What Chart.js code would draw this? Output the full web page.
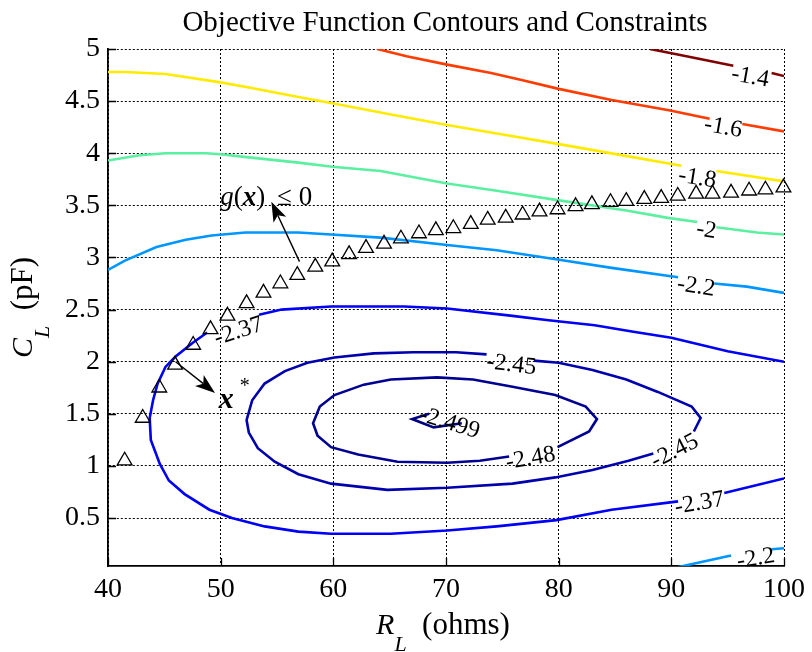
<!DOCTYPE html>
<html lang="en">
<head>
<meta charset="UTF-8">
<title>Objective Function Contours and Constraints</title>
<script src="https://cdn.jsdelivr.net/npm/chart.js@4.4.0/dist/chart.umd.min.js"></script>
<style>
  html, body { margin: 0; padding: 0; background: #fff; }
</style>
</head>
<body>
<canvas id="contourChart" width="812" height="652"></canvas>
<script>
// axis ticks
const xTicks = [40, 50, 60, 70, 80, 90, 100];
const yTicks = [0.5, 1, 1.5, 2, 2.5, 3, 3.5, 4, 4.5, 5];

// contour lines, [R_L, C_L] pairs (null = gap for the inline label)
const level_1_4 = [[88.1,5.0],[90.9,4.94],[93.2,4.89],[95.5,4.84],null,[98.9,4.77],[100,4.74]];
const level_1_6 = [[63.9,5.0],[66.5,4.93],[70.1,4.85],[74.0,4.77],[76.8,4.70],[79.9,4.62],[84.7,4.51],[89.9,4.41],[93.4,4.33],null,[96.3,4.28],[100,4.21]];
const level_1_8 = [[40,4.78],[41.5,4.78],[45.1,4.76],[50,4.68],[52.5,4.63],[56.9,4.54],[59.9,4.48],[65.7,4.36],[70.1,4.27],[74.5,4.19],[79.9,4.09],[86.2,3.97],[90.9,3.88],null,[94.0,3.83],[100,3.73]];
const level_2_0 = [[40,3.93],[42.8,3.98],[45.1,4.0],[48.7,4.0],[50,3.99],[52.5,3.96],[56.9,3.91],[59.9,3.87],[64.2,3.83],[70.1,3.71],[74.5,3.64],[79.9,3.55],[86.0,3.45],[89.7,3.38],[92.3,3.34],null,[94.0,3.29],[97.6,3.24],[100,3.22]];
const level_2_2 = [[40,2.88],[41.5,2.97],[44.3,3.10],[46.9,3.17],[49.2,3.21],[52.2,3.24],[56.9,3.24],[59.8,3.22],[64.2,3.19],[70.1,3.12],[74.5,3.07],[79.9,2.98],[84.7,2.90],[90.6,2.81],null,[93.8,2.75],[96.7,2.72],[100,2.66]];
const level_2_2b = [[90.2,0.02],[95.3,0.14],null,[98.9,0.20],[100,0.21]];
const level_2_37 = [[100,2.0],[95.0,2.10],[90.0,2.23],[86.5,2.29],[83.2,2.35],[78.9,2.40],[75.9,2.44],[70.1,2.51],[66.3,2.53],[59.8,2.53],[55.4,2.50],[53.4,2.45],null,
  [48.8,2.28],[47.5,2.18],[46.0,2.05],[45.1,1.95],[44.4,1.79],[44.0,1.63],[43.7,1.46],[43.8,1.25],[44.6,1.02],[45.4,0.86],[46.8,0.73],[49.0,0.58],[51.0,0.50],
  [53.9,0.42],[56.9,0.37],[59.8,0.35],[65.1,0.35],[70.1,0.38],[74.5,0.42],[79.8,0.48],[84.7,0.58],[90.6,0.66],null,[94.7,0.74],[100,0.88]];
const level_2_45 = [[77.8,2.01],[80.0,1.99],[83.0,1.92],[86.0,1.83],[88.8,1.71],[91.8,1.57],[92.6,1.46],[92.0,1.33],null,
  [88.4,1.12],[86.2,1.05],[83.0,0.96],[79.7,0.89],[75.9,0.83],[70.1,0.79],[64.8,0.77],[59.8,0.83],[56.9,0.92],[54.8,1.04],[53.3,1.17],
  [52.5,1.32],[52.3,1.44],[52.8,1.63],[53.9,1.79],[55.7,1.91],[57.7,1.99],[60.1,2.04],[63.6,2.08],[67.1,2.09],[70.9,2.09],[73.6,2.07]];
const level_2_48 = [[79.9,1.18],[82.7,1.33],[83.4,1.45],[82.4,1.57],[79.7,1.68],[75.9,1.76],[72.4,1.83],[69.2,1.85],[65.1,1.83],[62.7,1.78],
  [60.1,1.68],[58.8,1.57],[58.2,1.41],[58.6,1.29],[59.8,1.18],[62.2,1.11],[65.7,1.04],[70.1,1.03],[73.0,1.05],[75.6,1.09]];
const level_2_499 = [[68.5,1.50],[67.0,1.45],[68.9,1.37],[71.4,1.41]];

// constraint boundary g(x) = 0 (triangle markers)
const constraintPts = [[41.48,1.05],[43.08,1.46],[44.55,1.75],[45.95,1.97],[47.56,2.16],[49.1,2.31],[50.6,2.44],[52.3,2.56],[53.8,2.66],
  [55.3,2.75],[56.8,2.83],[58.4,2.91],[59.9,2.96],[61.4,3.03],[62.9,3.09],[64.5,3.13],[66.0,3.18],[67.6,3.23],[69.1,3.26],[70.65,3.28],
  [72.2,3.32],[73.7,3.36],[75.3,3.38],[76.8,3.41],[78.3,3.44],[79.9,3.46],[81.5,3.49],[82.95,3.51],[84.6,3.53],[86.0,3.54],[87.6,3.56],
  [89.1,3.57],[90.57,3.59],[92.2,3.61],[93.65,3.61],[95.3,3.62],[96.9,3.64],[98.35,3.65],[99.95,3.67]];

// inline contour labels (data position + rotation in degrees)
const contourLabels = [
  { text: '-1.4', x: 97.0, y: 4.73, angle: 10 },
  { text: '-1.6', x: 94.6, y: 4.245, angle: 10 },
  { text: '-1.8', x: 92.3, y: 3.76, angle: 9 },
  { text: '-2', x: 93.1, y: 3.26, angle: 9 },
  { text: '-2.2', x: 92.2, y: 2.72, angle: 9 },
  { text: '-2.2', x: 97.5, y: 0.11, angle: -9 },
  { text: '-2.37', x: 51.6, y: 2.29, angle: -18 },
  { text: '-2.37', x: 92.5, y: 0.64, angle: -10 },
  { text: '-2.45', x: 75.8, y: 1.97, angle: 7 },
  { text: '-2.45', x: 90.3, y: 1.14, angle: -27 },
  { text: '-2.48', x: 77.5, y: 1.07, angle: -10 },
  { text: '-2.499', x: 70.3, y: 1.41, angle: 17 }
];

// annotation arrows (tail -> head, data units)
const arrows = [
  { from: [57.0, 2.96], to: [54.5, 3.535] },
  { from: [46.0, 2.0], to: [49.5, 1.70] }
];

const serif = "'Liberation Serif', 'Times New Roman', serif";

function toXY(list) {
  return list.map(function (p) { return p ? { x: p[0], y: p[1] } : { x: null, y: null }; });
}

function contour(list, color) {
  return {
    data: toXY(list), borderColor: color, borderWidth: 2.6, pointRadius: 0,
    showLine: true, fill: false, tension: 0, spanGaps: false
  };
}

// draws a run of text pieces with their own fonts, left to right
function richText(ctx, parts, x, y) {
  parts.forEach(function (p) {
    ctx.font = p.font;
    ctx.fillText(p.text, x + (p.dx || 0), y + (p.dy || 0));
    x += ctx.measureText(p.text).width + (p.dx || 0);
  });
}
function richWidth(ctx, parts) {
  let w = 0;
  parts.forEach(function (p) { ctx.font = p.font; w += ctx.measureText(p.text).width + (p.dx || 0); });
  return w;
}

function arrow(ctx, x1, y1, x2, y2) {
  const ang = Math.atan2(y2 - y1, x2 - x1);
  const len = 20, half = 7, back = 5;
  ctx.beginPath();
  ctx.moveTo(x1, y1);
  ctx.lineTo(x2 - Math.cos(ang) * (len - back), y2 - Math.sin(ang) * (len - back));
  ctx.stroke();
  ctx.save();
  ctx.translate(x2, y2);
  ctx.rotate(ang);
  ctx.beginPath();
  ctx.moveTo(0, 0);
  ctx.lineTo(-len, -half);
  ctx.lineTo(-len + back, 0);
  ctx.lineTo(-len, half);
  ctx.closePath();
  ctx.fill();
  ctx.restore();
}

const decorations = {
  id: 'decorations',
  afterDatasetsDraw: function (chart) {
    const ctx = chart.ctx, xs = chart.scales.x, ys = chart.scales.y, area = chart.chartArea;
    ctx.save();
    ctx.fillStyle = '#000';
    ctx.strokeStyle = '#000';

    // inward tick marks
    ctx.lineWidth = 1.3;
    ctx.beginPath();
    xTicks.forEach(function (v) {
      const px = Math.round(xs.getPixelForValue(v)) + 0.5;
      ctx.moveTo(px, area.bottom); ctx.lineTo(px, area.bottom - 8);
    });
    yTicks.forEach(function (v) {
      const py = Math.round(ys.getPixelForValue(v)) + 0.5;
      ctx.moveTo(area.left, py); ctx.lineTo(area.left + 8, py);
    });
    ctx.stroke();

    // contour labels
    ctx.font = '24px ' + serif;
    ctx.textAlign = 'center';
    ctx.textBaseline = 'middle';
    contourLabels.forEach(function (l) {
      ctx.save();
      ctx.translate(xs.getPixelForValue(l.x), ys.getPixelForValue(l.y));
      ctx.rotate(l.angle * Math.PI / 180);
      ctx.fillText(l.text, 0, 0);
      ctx.restore();
    });

    // arrows
    ctx.lineWidth = 1.4;
    arrows.forEach(function (a) {
      arrow(ctx, xs.getPixelForValue(a.from[0]), ys.getPixelForValue(a.from[1]),
        xs.getPixelForValue(a.to[0]), ys.getPixelForValue(a.to[1]));
    });

    ctx.textAlign = 'left';
    ctx.textBaseline = 'alphabetic';
    // g(x) <= 0
    richText(ctx, [
      { font: 'italic 27px ' + serif, text: 'g' },
      { font: '27px ' + serif, text: '(' },
      { font: 'italic bold 27px ' + serif, text: 'x' },
      { font: '27px ' + serif, text: ')' },
      { font: '27px ' + serif, text: ' \u2264 0', dx: 5 }
    ], xs.getPixelForValue(49.97), ys.getPixelForValue(3.50));
    // x*
    richText(ctx, [
      { font: 'italic bold 30px ' + serif, text: 'x' },
      { font: '20px ' + serif, text: '*', dx: 6, dy: -16 }
    ], xs.getPixelForValue(49.83), ys.getPixelForValue(1.555));

    // axis titles
    const xTitle = [
      { font: 'italic 30px ' + serif, text: 'R' },
      { font: 'italic 22px ' + serif, text: 'L', dy: 17 },
      { font: '31px ' + serif, text: '  (ohms)' }
    ];
    const cx = (area.left + area.right) / 2 - 3;
    richText(ctx, xTitle, cx - richWidth(ctx, xTitle) / 2, 634);

    const yTitle = [
      { font: 'italic 30px ' + serif, text: 'C' },
      { font: 'italic 22px ' + serif, text: 'L', dy: 17 },
      { font: '31px ' + serif, text: '  (pF)' }
    ];
    ctx.save();
    ctx.translate(32, (area.top + area.bottom) / 2);
    ctx.rotate(-Math.PI / 2);
    richText(ctx, yTitle, -richWidth(ctx, yTitle) / 2, 0);
    ctx.restore();

    // title
    ctx.font = '29px ' + serif;
    ctx.textAlign = 'center';
    ctx.fillText('Objective Function Contours and Constraints', cx + 2, 31);
    ctx.restore();
  }
};

new Chart(document.getElementById('contourChart'), {
  type: 'line',
  data: {
    datasets: [
      {
        data: toXY(constraintPts), showLine: false, pointStyle: 'triangle', pointRadius: 8.5,
        borderColor: '#000', borderWidth: 1.3, backgroundColor: 'rgba(0,0,0,0)', clip: false
      },
      contour(level_2_499, 'rgb(0,0,128)'),
      contour(level_2_48, 'rgb(0,0,145)'),
      contour(level_2_45, 'rgb(0,0,173)'),
      contour(level_2_37, 'rgb(0,0,245)'),
      contour(level_2_2, 'rgb(0,150,255)'),
      contour(level_2_2b, 'rgb(0,150,255)'),
      contour(level_2_0, 'rgb(90,240,160)'),
      contour(level_1_8, 'rgb(255,235,0)'),
      contour(level_1_6, 'rgb(255,60,0)'),
      contour(level_1_4, 'rgb(128,0,0)')
    ]
  },
  options: {
    responsive: false,
    animation: false,
    events: [],
    layout: { padding: { top: 49, right: 22, left: 0, bottom: 0 } },
    plugins: { legend: { display: false }, tooltip: { enabled: false }, title: { display: false } },
    scales: {
      x: {
        type: 'linear', min: 40, max: 100,
        afterFit: function (s) { s.height = 86; },
        afterBuildTicks: function (s) { s.ticks = xTicks.map(function (v) { return { value: v }; }); },
        ticks: { font: { family: serif, size: 28 }, color: '#000', padding: 7, maxRotation: 0, autoSkip: false,
          callback: function (v) { return String(v); } },
        grid: { color: '#000', lineWidth: 1, drawTicks: false },
        border: { display: true, color: '#000', width: 1.8, dash: [2, 2] }
      },
      y: {
        type: 'linear', min: 0.04, max: 5,
        afterFit: function (s) { s.width = 108; },
        afterBuildTicks: function (s) { s.ticks = yTicks.map(function (v) { return { value: v }; }); },
        ticks: { font: { family: serif, size: 28 }, color: '#000', padding: 8, autoSkip: false,
          callback: function (v) { return String(v); } },
        grid: { color: '#000', lineWidth: 1, drawTicks: false },
        border: { display: true, color: '#000', width: 1.8, dash: [2, 2] }
      }
    }
  },
  plugins: [decorations]
});
</script>
</body>
</html>
